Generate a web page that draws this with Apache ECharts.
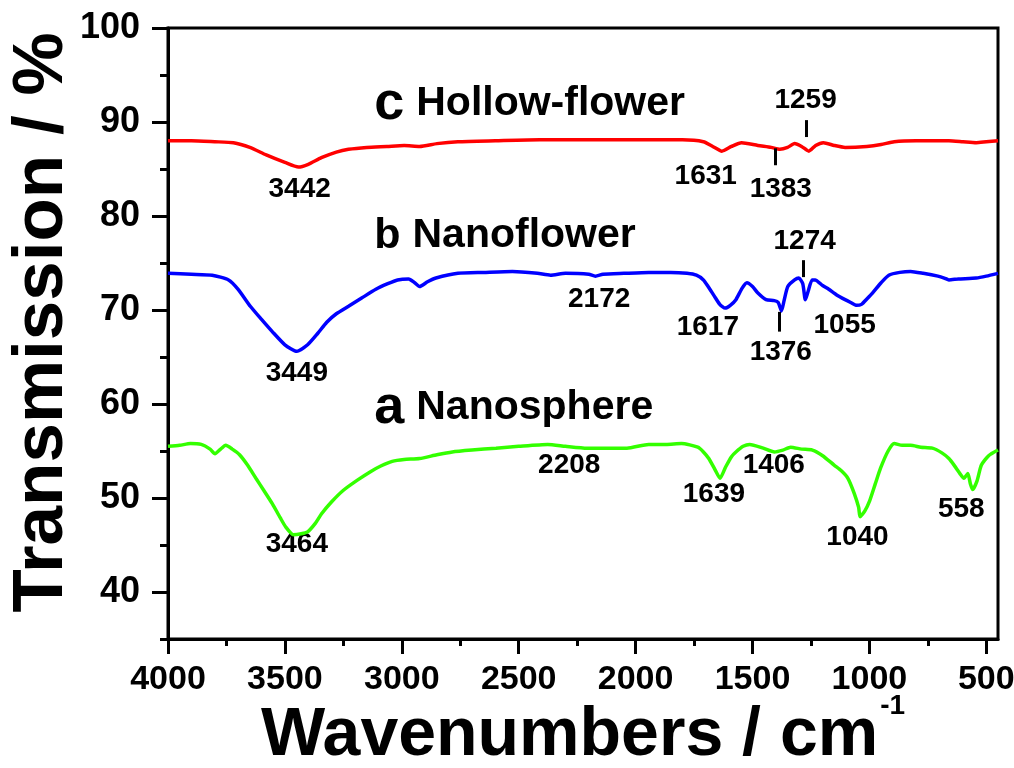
<!DOCTYPE html>
<html>
<head>
<meta charset="utf-8">
<script src="https://cdn.jsdelivr.net/npm/echarts@6/dist/echarts.min.js"></script>
<style>
  html, body { margin: 0; padding: 0; background: #fff; }
  #chart { width: 1014px; height: 768px; }
</style>
</head>
<body>
<div id="chart"></div>
<script>
// FTIR spectra, [wavenumber, transmission %]
const hollowFlower = [
  [4000, 88.0], [3900, 88.0], [3800, 87.9], [3720, 87.8], [3650, 87.3], [3580, 86.5],
  [3500, 85.7], [3442, 85.2], [3400, 85.5], [3344, 86.2], [3280, 86.8], [3228, 87.1],
  [3150, 87.3], [3064, 87.4], [2990, 87.5], [2924, 87.4], [2850, 87.7], [2760, 87.9],
  [2600, 88.0], [2410, 88.1], [2200, 88.1], [1944, 88.1], [1800, 88.1], [1710, 87.9],
  [1670, 87.4], [1631, 86.9], [1590, 87.4], [1547, 87.8], [1477, 87.5], [1420, 87.3],
  [1383, 87.1], [1350, 87.3], [1320, 87.7], [1290, 87.4], [1259, 86.9], [1230, 87.5],
  [1197, 87.8], [1150, 87.5], [1104, 87.3], [1011, 87.4], [950, 87.6], [894, 87.9],
  [800, 88.0], [660, 88.0], [600, 87.9], [543, 87.8], [500, 87.9], [450, 88.0]
];

const nanoflower = [
  [4000, 73.9], [3900, 73.8], [3811, 73.7], [3741, 73.2], [3700, 72.2], [3648, 70.4],
  [3600, 69.0], [3554, 67.7], [3500, 66.3], [3449, 65.6], [3403, 66.3], [3360, 67.5],
  [3321, 68.7], [3280, 69.6], [3228, 70.4], [3170, 71.3], [3111, 72.2], [3060, 72.8],
  [3018, 73.2], [2971, 73.3], [2945, 72.9], [2924, 72.5], [2890, 73.0], [2854, 73.4],
  [2760, 73.9], [2650, 74.0], [2527, 74.1], [2420, 73.9], [2364, 73.7], [2300, 73.9],
  [2200, 73.8], [2172, 73.6], [2140, 73.8], [2050, 73.9], [1944, 74.0], [1850, 74.0],
  [1780, 73.9], [1740, 73.7], [1710, 73.2], [1690, 72.5], [1664, 71.5], [1640, 70.6],
  [1617, 70.2], [1595, 70.5], [1571, 71.1], [1545, 72.3], [1524, 72.9], [1500, 72.5],
  [1477, 71.8], [1442, 71.1], [1407, 71.0], [1390, 70.8], [1376, 69.9], [1365, 71.0],
  [1349, 72.5], [1320, 73.2], [1302, 73.4], [1285, 72.8], [1274, 71.1], [1262, 72.0],
  [1245, 73.2], [1232, 73.2], [1200, 72.6], [1174, 72.2], [1140, 71.6], [1104, 71.1],
  [1080, 70.8], [1055, 70.5], [1034, 70.6], [1010, 71.2], [987, 71.8], [950, 72.9],
  [917, 73.7], [870, 74.0], [824, 74.1], [770, 73.9], [707, 73.6], [680, 73.4],
  [660, 73.2], [620, 73.3], [543, 73.4], [500, 73.6], [450, 73.9]
];

const nanosphere = [
  [4000, 55.5], [3950, 55.6], [3904, 55.8], [3858, 55.7], [3820, 55.2], [3799, 54.7],
  [3775, 55.2], [3753, 55.6], [3725, 55.2], [3694, 54.6], [3660, 53.5], [3624, 52.1],
  [3590, 50.8], [3554, 49.4], [3520, 47.9], [3496, 46.9], [3464, 46.1], [3430, 46.2],
  [3403, 46.4], [3370, 47.3], [3344, 48.3], [3300, 49.6], [3251, 50.8], [3190, 51.9],
  [3134, 52.8], [3090, 53.4], [3041, 53.9], [2990, 54.1], [2924, 54.2], [2850, 54.6],
  [2784, 54.9], [2700, 55.1], [2597, 55.3], [2500, 55.5], [2376, 55.7], [2300, 55.5],
  [2208, 55.3], [2100, 55.3], [2037, 55.3], [1944, 55.7], [1870, 55.7], [1804, 55.8],
  [1734, 55.4], [1710, 54.9], [1687, 54.2], [1660, 53.0], [1639, 52.1], [1615, 53.3],
  [1590, 54.4], [1571, 54.9], [1540, 55.5], [1512, 55.7], [1454, 55.3], [1406, 54.9],
  [1370, 55.1], [1337, 55.4], [1290, 55.2], [1244, 55.1], [1200, 54.5], [1151, 53.5],
  [1120, 52.9], [1092, 52.1], [1065, 50.5], [1046, 49.0], [1040, 48.0], [1020, 48.6],
  [999, 49.7], [975, 51.5], [952, 53.2], [920, 55.0], [894, 55.8], [860, 55.6],
  [824, 55.6], [780, 55.4], [731, 55.3], [690, 54.8], [660, 54.2], [638, 53.5],
  [610, 52.5], [596, 52.1], [579, 52.6], [568, 51.5], [558, 50.9], [540, 51.8],
  [521, 53.5], [490, 54.5], [450, 55.1]
];

// tick values
const xMajorTicks = [500, 1000, 1500, 2000, 2500, 3000, 3500, 4000];
const xMinorTicks = [750, 1250, 1750, 2250, 2750, 3250, 3750];
const yMajorTicks = [40, 50, 60, 70, 80, 90, 100];
const yMinorTicks = [35, 45, 55, 65, 75, 85, 95];

// peak labels: [wavenumber, transmission, text]
const peakLabels = [
  [3437, 82.8, '3442'], [1700, 84.2, '1631'], [1379, 82.8, '1383'], [1273, 92.3, '1259'],
  [3449, 63.3, '3449'], [2156, 71.1, '2172'], [1691, 68.2, '1617'], [1379, 65.5, '1376'],
  [1277, 77.3, '1274'], [1106, 68.4, '1055'],
  [3449, 45.1, '3464'], [2284, 53.5, '2208'], [1665, 50.4, '1639'], [1409, 53.5, '1406'],
  [1051, 45.8, '1040'], [607, 48.8, '558']
];

// short marker bars: [wavenumber, from, to]
const peakBars = [
  [1268, 90.2, 88.4], [1401, 87.2, 85.4], [1281, 75.3, 73.5], [1384, 69.8, 67.7]
];

// sample names: [wavenumber, transmission, letter, name]
const sampleNames = [
  [3118, 91.9, 'c', 'Hollow-flower'],
  [3118, 77.9, 'b', 'Nanoflower'],
  [3118, 59.6, 'a', 'Nanosphere']
];
const letterSizes = { a: 54, b: 43, c: 54 };

const FONT = '"Liberation Sans", Arial, sans-serif';
const chart = echarts.init(document.getElementById('chart'), null, { renderer: 'canvas' });

const tickLine = { lineStyle: { color: '#000', width: 3 } };
const letterStyle = (size) => ({
  fontFamily: FONT, fontWeight: 'bold', fontSize: size, color: '#000', padding: [0, 6, 0, 0]
});

chart.setOption({
  animation: false,
  backgroundColor: '#fff',
  grid: {
    left: 168, right: 16, top: 28, bottom: 129,
    containLabel: false, outerBoundsMode: 'none',
    show: true, borderColor: '#000', borderWidth: 3, backgroundColor: 'transparent'
  },
  xAxis: [
    {
      type: 'value', min: 450, max: 4000, inverse: true, position: 'bottom',
      axisLine: { show: true, lineStyle: { color: '#000', width: 3 } },
      axisTick: { show: true, inside: false, length: 15, customValues: xMajorTicks, ...tickLine },
      axisLabel: {
        customValues: xMajorTicks, color: '#000', fontFamily: FONT, fontWeight: 'bold',
        fontSize: 34, margin: 24, formatter: (v) => String(v)
      },
      splitLine: { show: false },
      name: '{t|Wavenumbers / cm}{s|-1}',
      nameLocation: 'middle',
      nameGap: 53,
      nameMoveOverlap: false,
      nameTextStyle: {
        rich: {
          t: { fontFamily: FONT, fontWeight: 'bold', fontSize: 68, color: '#000', verticalAlign: 'bottom' },
          s: {
            fontFamily: FONT, fontWeight: 'bold', fontSize: 28, color: '#000',
            verticalAlign: 'bottom', padding: [0, 0, 50, 2]
          }
        }
      }
    },
    {
      type: 'value', min: 450, max: 4000, inverse: true, position: 'bottom',
      axisLine: { show: false },
      axisTick: { show: true, inside: false, length: 7, customValues: xMinorTicks, ...tickLine },
      axisLabel: { show: false },
      splitLine: { show: false }
    }
  ],
  yAxis: [
    {
      type: 'value', min: 35, max: 100, position: 'left',
      axisLine: { show: true, lineStyle: { color: '#000', width: 3 } },
      axisTick: { show: true, inside: false, length: 16, customValues: yMajorTicks, ...tickLine },
      axisLabel: {
        customValues: yMajorTicks, color: '#000', fontFamily: FONT, fontWeight: 'bold',
        fontSize: 36, margin: 28, formatter: (v) => String(v)
      },
      splitLine: { show: false },
      name: 'Transmission / %',
      nameLocation: 'middle',
      nameRotate: 90,
      nameGap: 90,
      nameMoveOverlap: false,
      nameTextStyle: {
        fontFamily: FONT, fontWeight: 'bold', fontSize: 71, color: '#000', padding: [0, 0, 0, 22]
      }
    },
    {
      type: 'value', min: 35, max: 100, position: 'left',
      axisLine: { show: false },
      axisTick: { show: true, inside: false, length: 8, customValues: yMinorTicks, ...tickLine },
      axisLabel: { show: false },
      splitLine: { show: false }
    }
  ],
  series: [
    {
      name: 'c', type: 'line', data: hollowFlower, showSymbol: false, smooth: 0.2,
      lineStyle: { color: '#ff0000', width: 3.5 }, itemStyle: { color: '#ff0000' }
    },
    {
      name: 'b', type: 'line', data: nanoflower, showSymbol: false, smooth: 0.2,
      lineStyle: { color: '#0000ff', width: 3.5 }, itemStyle: { color: '#0000ff' }
    },
    {
      name: 'a', type: 'line', data: nanosphere, showSymbol: false, smooth: 0.2,
      lineStyle: { color: '#33ff00', width: 3.5 }, itemStyle: { color: '#33ff00' }
    },
    {
      // peak wavenumbers
      type: 'scatter', symbolSize: 0, silent: true,
      itemStyle: { opacity: 1 },
      data: peakLabels,
      label: {
        show: true, position: 'inside', color: '#000', opacity: 1, fontFamily: FONT,
        fontWeight: 'bold', fontSize: 28, formatter: (p) => p.data[2]
      },
      markLine: {
        silent: true, symbol: 'none', animation: false,
        lineStyle: { color: '#000', width: 3, type: 'solid', opacity: 1 },
        label: { show: false },
        data: peakBars.map((b) => [{ coord: [b[0], b[1]] }, { coord: [b[0], b[2]] }])
      }
    },
    {
      // sample names
      type: 'scatter', symbolSize: 0, silent: true,
      itemStyle: { opacity: 1 },
      data: sampleNames,
      label: {
        show: true, position: 'right', distance: 0, color: '#000', opacity: 1,
        formatter: (p) => '{' + p.data[2] + '|' + p.data[2] + '}{n|' + p.data[3] + '}',
        rich: {
          a: letterStyle(letterSizes.a),
          b: letterStyle(letterSizes.b),
          c: letterStyle(letterSizes.c),
          n: { fontFamily: FONT, fontWeight: 'bold', fontSize: 41, color: '#000', padding: [0, 0, 0, 6] }
        }
      }
    }
  ]
});
</script>
</body>
</html>
